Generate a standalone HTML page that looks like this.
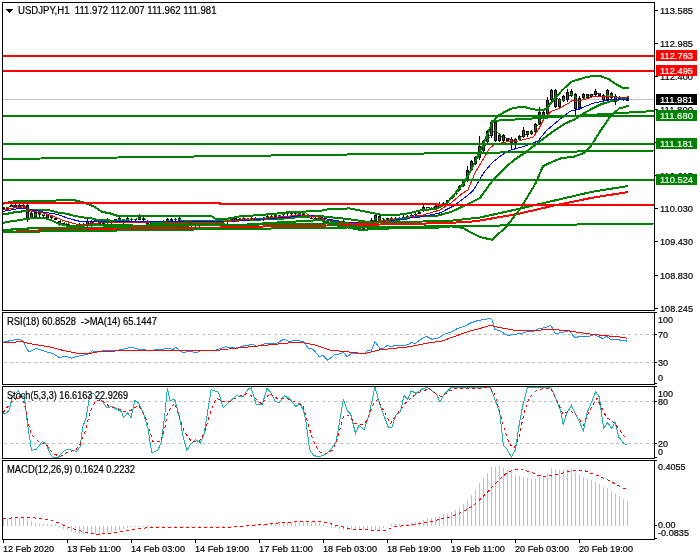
<!DOCTYPE html>
<html><head><meta charset="utf-8"><title>USDJPY,H1</title>
<style>
html,body{margin:0;padding:0;background:#fff;width:700px;height:560px;overflow:hidden}
svg{display:block}
text{font-family:"Liberation Sans",Arial,sans-serif;white-space:pre}
</style></head><body>
<svg width="700" height="560" viewBox="0 0 700 560" shape-rendering="crispEdges">
<rect width="700" height="560" fill="#fff"/>
<line x1="3" y1="99.5" x2="654" y2="99.5" stroke="#c0c0c0" stroke-width="1"/>
<line x1="3.5" y1="207" x2="3.5" y2="209.5" stroke="#000" stroke-width="1"/>
<rect x="2" y="207" width="3" height="2" fill="#000"/>
<line x1="7.5" y1="207" x2="7.5" y2="210" stroke="#000" stroke-width="1"/>
<rect x="6" y="207" width="3" height="2" fill="#000"/>
<line x1="11.5" y1="204" x2="11.5" y2="207" stroke="#000" stroke-width="1"/>
<rect x="10" y="205" width="3" height="2" fill="#000"/>
<line x1="15.5" y1="204" x2="15.5" y2="207" stroke="#000" stroke-width="1"/>
<rect x="14" y="205" width="3" height="2" fill="#000"/>
<line x1="19.5" y1="204" x2="19.5" y2="207" stroke="#000" stroke-width="1"/>
<rect x="18" y="205" width="3" height="2" fill="#000"/>
<line x1="23.5" y1="204" x2="23.5" y2="208" stroke="#000" stroke-width="1"/>
<rect x="22" y="205" width="3" height="2" fill="#000"/>
<line x1="27.5" y1="204" x2="27.5" y2="222" stroke="#000" stroke-width="1"/>
<rect x="26" y="205" width="3" height="14" fill="#000"/>
<rect x="27" y="206" width="1" height="12" fill="#ff0000"/>
<line x1="31.5" y1="212" x2="31.5" y2="219" stroke="#000" stroke-width="1"/>
<rect x="30" y="213" width="3" height="5" fill="#000"/>
<rect x="31" y="214" width="1" height="3" fill="#ff0000"/>
<line x1="35.5" y1="212" x2="35.5" y2="218" stroke="#000" stroke-width="1"/>
<rect x="34" y="212" width="3" height="5" fill="#000"/>
<rect x="35" y="213" width="1" height="3" fill="#008000"/>
<line x1="39.5" y1="212" x2="39.5" y2="217" stroke="#000" stroke-width="1"/>
<rect x="38" y="213" width="3" height="2" fill="#000"/>
<line x1="43.5" y1="215" x2="43.5" y2="217" stroke="#000" stroke-width="1"/>
<rect x="42" y="215" width="3" height="1" fill="#000"/>
<line x1="47.5" y1="214" x2="47.5" y2="218" stroke="#000" stroke-width="1"/>
<rect x="46" y="215" width="3" height="3" fill="#000"/>
<rect x="47" y="216" width="1" height="1" fill="#008000"/>
<line x1="51.5" y1="216" x2="51.5" y2="219" stroke="#000" stroke-width="1"/>
<rect x="50" y="216" width="3" height="2" fill="#000"/>
<line x1="55.5" y1="218" x2="55.5" y2="220" stroke="#000" stroke-width="1"/>
<rect x="54" y="218" width="3" height="2" fill="#000"/>
<line x1="59.5" y1="221" x2="59.5" y2="226" stroke="#000" stroke-width="1"/>
<rect x="58" y="221" width="3" height="3" fill="#000"/>
<rect x="59" y="222" width="1" height="1" fill="#008000"/>
<line x1="63.5" y1="223" x2="63.5" y2="225" stroke="#000" stroke-width="1"/>
<rect x="62" y="223" width="3" height="1" fill="#000"/>
<line x1="67.5" y1="224" x2="67.5" y2="226" stroke="#000" stroke-width="1"/>
<rect x="66" y="224" width="3" height="1" fill="#000"/>
<line x1="71.5" y1="226" x2="71.5" y2="228" stroke="#000" stroke-width="1"/>
<rect x="70" y="226" width="3" height="1" fill="#000"/>
<line x1="75.5" y1="225" x2="75.5" y2="228" stroke="#000" stroke-width="1"/>
<rect x="74" y="225" width="3" height="3" fill="#000"/>
<rect x="75" y="226" width="1" height="1" fill="#ff0000"/>
<line x1="79.5" y1="223" x2="79.5" y2="228" stroke="#000" stroke-width="1"/>
<rect x="78" y="225" width="3" height="2" fill="#000"/>
<line x1="83.5" y1="223" x2="83.5" y2="227" stroke="#000" stroke-width="1"/>
<rect x="82" y="224" width="3" height="2" fill="#000"/>
<line x1="87.5" y1="219" x2="87.5" y2="227" stroke="#000" stroke-width="1"/>
<rect x="86" y="221" width="3" height="4" fill="#000"/>
<rect x="87" y="222" width="1" height="2" fill="#ff0000"/>
<line x1="91.5" y1="220" x2="91.5" y2="229" stroke="#000" stroke-width="1"/>
<rect x="90" y="222" width="3" height="4" fill="#000"/>
<rect x="91" y="223" width="1" height="2" fill="#008000"/>
<line x1="95.5" y1="219" x2="95.5" y2="221" stroke="#000" stroke-width="1"/>
<rect x="94" y="220" width="3" height="1" fill="#000"/>
<line x1="99.5" y1="220" x2="99.5" y2="226" stroke="#000" stroke-width="1"/>
<rect x="98" y="222" width="3" height="3" fill="#000"/>
<rect x="99" y="223" width="1" height="1" fill="#ff0000"/>
<line x1="103.5" y1="223" x2="103.5" y2="225" stroke="#000" stroke-width="1"/>
<rect x="102" y="223" width="3" height="2" fill="#000"/>
<line x1="107.5" y1="218" x2="107.5" y2="224" stroke="#000" stroke-width="1"/>
<rect x="106" y="219" width="3" height="4" fill="#000"/>
<rect x="107" y="220" width="1" height="2" fill="#ff0000"/>
<line x1="111.5" y1="221" x2="111.5" y2="224" stroke="#000" stroke-width="1"/>
<rect x="110" y="222" width="3" height="1" fill="#000"/>
<line x1="115.5" y1="219" x2="115.5" y2="221" stroke="#000" stroke-width="1"/>
<rect x="114" y="219" width="3" height="2" fill="#000"/>
<line x1="119.5" y1="217" x2="119.5" y2="222" stroke="#000" stroke-width="1"/>
<rect x="118" y="218" width="3" height="3" fill="#000"/>
<rect x="119" y="219" width="1" height="1" fill="#ff0000"/>
<line x1="123.5" y1="219" x2="123.5" y2="227" stroke="#000" stroke-width="1"/>
<rect x="122" y="219" width="3" height="3" fill="#000"/>
<rect x="123" y="220" width="1" height="1" fill="#008000"/>
<line x1="127.5" y1="216" x2="127.5" y2="223" stroke="#000" stroke-width="1"/>
<rect x="126" y="218" width="3" height="3" fill="#000"/>
<rect x="127" y="219" width="1" height="1" fill="#008000"/>
<line x1="131.5" y1="218" x2="131.5" y2="222" stroke="#000" stroke-width="1"/>
<rect x="130" y="219" width="3" height="1" fill="#000"/>
<line x1="135.5" y1="219" x2="135.5" y2="221" stroke="#000" stroke-width="1"/>
<rect x="134" y="219" width="3" height="1" fill="#000"/>
<line x1="139.5" y1="214" x2="139.5" y2="220" stroke="#000" stroke-width="1"/>
<rect x="138" y="217" width="3" height="3" fill="#000"/>
<rect x="139" y="218" width="1" height="1" fill="#008000"/>
<line x1="143.5" y1="217" x2="143.5" y2="222" stroke="#000" stroke-width="1"/>
<rect x="142" y="218" width="3" height="2" fill="#000"/>
<line x1="147.5" y1="222" x2="147.5" y2="226" stroke="#000" stroke-width="1"/>
<rect x="146" y="222" width="3" height="2" fill="#000"/>
<line x1="151.5" y1="222" x2="151.5" y2="227" stroke="#000" stroke-width="1"/>
<rect x="150" y="222" width="3" height="3" fill="#000"/>
<rect x="151" y="223" width="1" height="1" fill="#008000"/>
<line x1="155.5" y1="221" x2="155.5" y2="225" stroke="#000" stroke-width="1"/>
<rect x="154" y="222" width="3" height="2" fill="#000"/>
<line x1="159.5" y1="222" x2="159.5" y2="225" stroke="#000" stroke-width="1"/>
<rect x="158" y="222" width="3" height="2" fill="#000"/>
<line x1="163.5" y1="220" x2="163.5" y2="225" stroke="#000" stroke-width="1"/>
<rect x="162" y="221" width="3" height="3" fill="#000"/>
<rect x="163" y="222" width="1" height="1" fill="#ff0000"/>
<line x1="167.5" y1="218" x2="167.5" y2="224" stroke="#000" stroke-width="1"/>
<rect x="166" y="219" width="3" height="3" fill="#000"/>
<rect x="167" y="220" width="1" height="1" fill="#ff0000"/>
<line x1="171.5" y1="218" x2="171.5" y2="222" stroke="#000" stroke-width="1"/>
<rect x="170" y="219" width="3" height="2" fill="#000"/>
<line x1="175.5" y1="218" x2="175.5" y2="221" stroke="#000" stroke-width="1"/>
<rect x="174" y="219" width="3" height="1" fill="#000"/>
<line x1="179.5" y1="217" x2="179.5" y2="222" stroke="#000" stroke-width="1"/>
<rect x="178" y="218" width="3" height="3" fill="#000"/>
<rect x="179" y="219" width="1" height="1" fill="#008000"/>
<line x1="183.5" y1="220" x2="183.5" y2="224" stroke="#000" stroke-width="1"/>
<rect x="182" y="222" width="3" height="1" fill="#000"/>
<line x1="187.5" y1="221" x2="187.5" y2="224" stroke="#000" stroke-width="1"/>
<rect x="186" y="222" width="3" height="2" fill="#000"/>
<line x1="191.5" y1="220" x2="191.5" y2="227" stroke="#000" stroke-width="1"/>
<rect x="190" y="222" width="3" height="3" fill="#000"/>
<rect x="191" y="223" width="1" height="1" fill="#008000"/>
<line x1="195.5" y1="222" x2="195.5" y2="227" stroke="#000" stroke-width="1"/>
<rect x="194" y="224" width="3" height="1" fill="#000"/>
<line x1="199.5" y1="223" x2="199.5" y2="227" stroke="#000" stroke-width="1"/>
<rect x="198" y="224" width="3" height="1" fill="#000"/>
<line x1="203.5" y1="223" x2="203.5" y2="225" stroke="#000" stroke-width="1"/>
<rect x="202" y="223" width="3" height="2" fill="#000"/>
<line x1="207.5" y1="224" x2="207.5" y2="226" stroke="#000" stroke-width="1"/>
<rect x="206" y="224" width="3" height="1" fill="#000"/>
<line x1="211.5" y1="221" x2="211.5" y2="225" stroke="#000" stroke-width="1"/>
<rect x="210" y="222" width="3" height="1" fill="#000"/>
<line x1="215.5" y1="219" x2="215.5" y2="223" stroke="#000" stroke-width="1"/>
<rect x="214" y="220" width="3" height="2" fill="#000"/>
<line x1="219.5" y1="218" x2="219.5" y2="223" stroke="#000" stroke-width="1"/>
<rect x="218" y="220" width="3" height="1" fill="#000"/>
<line x1="223.5" y1="220" x2="223.5" y2="223" stroke="#000" stroke-width="1"/>
<rect x="222" y="220" width="3" height="2" fill="#000"/>
<line x1="227.5" y1="219" x2="227.5" y2="224" stroke="#000" stroke-width="1"/>
<rect x="226" y="220" width="3" height="2" fill="#000"/>
<line x1="231.5" y1="219" x2="231.5" y2="221" stroke="#000" stroke-width="1"/>
<rect x="230" y="219" width="3" height="1" fill="#000"/>
<line x1="235.5" y1="217" x2="235.5" y2="222" stroke="#000" stroke-width="1"/>
<rect x="234" y="218" width="3" height="3" fill="#000"/>
<rect x="235" y="219" width="1" height="1" fill="#ff0000"/>
<line x1="239.5" y1="218" x2="239.5" y2="220" stroke="#000" stroke-width="1"/>
<rect x="238" y="219" width="3" height="1" fill="#000"/>
<line x1="243.5" y1="217" x2="243.5" y2="221" stroke="#000" stroke-width="1"/>
<rect x="242" y="218" width="3" height="2" fill="#000"/>
<line x1="247.5" y1="218" x2="247.5" y2="221" stroke="#000" stroke-width="1"/>
<rect x="246" y="219" width="3" height="1" fill="#000"/>
<line x1="251.5" y1="217" x2="251.5" y2="221" stroke="#000" stroke-width="1"/>
<rect x="250" y="218" width="3" height="1" fill="#000"/>
<line x1="255.5" y1="217" x2="255.5" y2="221" stroke="#000" stroke-width="1"/>
<rect x="254" y="218" width="3" height="1" fill="#000"/>
<line x1="259.5" y1="218" x2="259.5" y2="220" stroke="#000" stroke-width="1"/>
<rect x="258" y="218" width="3" height="1" fill="#000"/>
<line x1="263.5" y1="217" x2="263.5" y2="221" stroke="#000" stroke-width="1"/>
<rect x="262" y="218" width="3" height="1" fill="#000"/>
<line x1="267.5" y1="215" x2="267.5" y2="218" stroke="#000" stroke-width="1"/>
<rect x="266" y="216" width="3" height="2" fill="#000"/>
<line x1="271.5" y1="214" x2="271.5" y2="218" stroke="#000" stroke-width="1"/>
<rect x="270" y="216" width="3" height="1" fill="#000"/>
<line x1="275.5" y1="215" x2="275.5" y2="219" stroke="#000" stroke-width="1"/>
<rect x="274" y="215" width="3" height="2" fill="#000"/>
<line x1="279.5" y1="215" x2="279.5" y2="217" stroke="#000" stroke-width="1"/>
<rect x="278" y="215" width="3" height="2" fill="#000"/>
<line x1="283.5" y1="212" x2="283.5" y2="216" stroke="#000" stroke-width="1"/>
<rect x="282" y="214" width="3" height="1" fill="#000"/>
<line x1="287.5" y1="212" x2="287.5" y2="216" stroke="#000" stroke-width="1"/>
<rect x="286" y="212" width="3" height="2" fill="#000"/>
<line x1="291.5" y1="212" x2="291.5" y2="215" stroke="#000" stroke-width="1"/>
<rect x="290" y="213" width="3" height="1" fill="#000"/>
<line x1="295.5" y1="212" x2="295.5" y2="216" stroke="#000" stroke-width="1"/>
<rect x="294" y="213" width="3" height="1" fill="#000"/>
<line x1="299.5" y1="211" x2="299.5" y2="215" stroke="#000" stroke-width="1"/>
<rect x="298" y="213" width="3" height="1" fill="#000"/>
<line x1="303.5" y1="211" x2="303.5" y2="215" stroke="#000" stroke-width="1"/>
<rect x="302" y="212" width="3" height="3" fill="#000"/>
<rect x="303" y="213" width="1" height="1" fill="#008000"/>
<line x1="307.5" y1="214" x2="307.5" y2="218" stroke="#000" stroke-width="1"/>
<rect x="306" y="215" width="3" height="1" fill="#000"/>
<line x1="311.5" y1="217" x2="311.5" y2="219" stroke="#000" stroke-width="1"/>
<rect x="310" y="218" width="3" height="1" fill="#000"/>
<line x1="315.5" y1="217" x2="315.5" y2="221" stroke="#000" stroke-width="1"/>
<rect x="314" y="218" width="3" height="2" fill="#000"/>
<line x1="319.5" y1="217" x2="319.5" y2="220" stroke="#000" stroke-width="1"/>
<rect x="318" y="218" width="3" height="2" fill="#000"/>
<line x1="323.5" y1="218" x2="323.5" y2="224" stroke="#000" stroke-width="1"/>
<rect x="322" y="220" width="3" height="2" fill="#000"/>
<line x1="327.5" y1="219" x2="327.5" y2="224" stroke="#000" stroke-width="1"/>
<rect x="326" y="220" width="3" height="3" fill="#000"/>
<rect x="327" y="221" width="1" height="1" fill="#ff0000"/>
<line x1="331.5" y1="219" x2="331.5" y2="223" stroke="#000" stroke-width="1"/>
<rect x="330" y="221" width="3" height="1" fill="#000"/>
<line x1="335.5" y1="220" x2="335.5" y2="223" stroke="#000" stroke-width="1"/>
<rect x="334" y="221" width="3" height="1" fill="#000"/>
<line x1="339.5" y1="222" x2="339.5" y2="224" stroke="#000" stroke-width="1"/>
<rect x="338" y="222" width="3" height="1" fill="#000"/>
<line x1="343.5" y1="219" x2="343.5" y2="224" stroke="#000" stroke-width="1"/>
<rect x="342" y="221" width="3" height="3" fill="#000"/>
<rect x="343" y="222" width="1" height="1" fill="#ff0000"/>
<line x1="347.5" y1="223" x2="347.5" y2="226" stroke="#000" stroke-width="1"/>
<rect x="346" y="224" width="3" height="1" fill="#000"/>
<line x1="351.5" y1="224" x2="351.5" y2="227" stroke="#000" stroke-width="1"/>
<rect x="350" y="226" width="3" height="1" fill="#000"/>
<line x1="355.5" y1="224" x2="355.5" y2="228" stroke="#000" stroke-width="1"/>
<rect x="354" y="226" width="3" height="1" fill="#000"/>
<line x1="359.5" y1="225" x2="359.5" y2="230" stroke="#000" stroke-width="1"/>
<rect x="358" y="226" width="3" height="3" fill="#000"/>
<rect x="359" y="227" width="1" height="1" fill="#008000"/>
<line x1="363.5" y1="224" x2="363.5" y2="230" stroke="#000" stroke-width="1"/>
<rect x="362" y="226" width="3" height="3" fill="#000"/>
<rect x="363" y="227" width="1" height="1" fill="#ff0000"/>
<line x1="367.5" y1="225" x2="367.5" y2="230" stroke="#000" stroke-width="1"/>
<rect x="366" y="226" width="3" height="2" fill="#000"/>
<line x1="371.5" y1="218" x2="371.5" y2="223" stroke="#000" stroke-width="1"/>
<rect x="370" y="220" width="3" height="1" fill="#000"/>
<line x1="375.5" y1="214" x2="375.5" y2="221.5" stroke="#000" stroke-width="1"/>
<rect x="374" y="215" width="3" height="6" fill="#000"/>
<rect x="375" y="216" width="1" height="4" fill="#008000"/>
<line x1="379.5" y1="215" x2="379.5" y2="221.5" stroke="#000" stroke-width="1"/>
<rect x="378" y="216" width="3" height="5" fill="#000"/>
<rect x="379" y="217" width="1" height="3" fill="#ff0000"/>
<line x1="383.5" y1="218" x2="383.5" y2="221" stroke="#000" stroke-width="1"/>
<rect x="382" y="220" width="3" height="1" fill="#000"/>
<line x1="387.5" y1="218" x2="387.5" y2="221" stroke="#000" stroke-width="1"/>
<rect x="386" y="218" width="3" height="2" fill="#000"/>
<line x1="391.5" y1="217" x2="391.5" y2="221" stroke="#000" stroke-width="1"/>
<rect x="390" y="218" width="3" height="2" fill="#000"/>
<line x1="395.5" y1="217" x2="395.5" y2="220" stroke="#000" stroke-width="1"/>
<rect x="394" y="218" width="3" height="2" fill="#000"/>
<line x1="399.5" y1="217" x2="399.5" y2="221" stroke="#000" stroke-width="1"/>
<rect x="398" y="218" width="3" height="2" fill="#000"/>
<line x1="403.5" y1="215" x2="403.5" y2="220" stroke="#000" stroke-width="1"/>
<rect x="402" y="217" width="3" height="2" fill="#000"/>
<line x1="407.5" y1="215" x2="407.5" y2="218" stroke="#000" stroke-width="1"/>
<rect x="406" y="216" width="3" height="2" fill="#000"/>
<line x1="411.5" y1="214" x2="411.5" y2="218" stroke="#000" stroke-width="1"/>
<rect x="410" y="215" width="3" height="1" fill="#000"/>
<line x1="415.5" y1="212" x2="415.5" y2="216" stroke="#000" stroke-width="1"/>
<rect x="414" y="214" width="3" height="1" fill="#000"/>
<line x1="419.5" y1="212" x2="419.5" y2="214" stroke="#000" stroke-width="1"/>
<rect x="418" y="212" width="3" height="2" fill="#000"/>
<line x1="423.5" y1="205" x2="423.5" y2="212" stroke="#000" stroke-width="1"/>
<rect x="422" y="207" width="3" height="4" fill="#000"/>
<rect x="423" y="208" width="1" height="2" fill="#008000"/>
<line x1="427.5" y1="207" x2="427.5" y2="208" stroke="#000" stroke-width="1"/>
<rect x="426" y="207" width="3" height="1" fill="#000"/>
<line x1="431.5" y1="207" x2="431.5" y2="210" stroke="#000" stroke-width="1"/>
<rect x="430" y="208" width="3" height="1" fill="#000"/>
<line x1="435.5" y1="205" x2="435.5" y2="210" stroke="#000" stroke-width="1"/>
<rect x="434" y="206" width="3" height="2" fill="#000"/>
<line x1="439.5" y1="202" x2="439.5" y2="208" stroke="#000" stroke-width="1"/>
<rect x="438" y="204" width="3" height="3" fill="#000"/>
<rect x="439" y="205" width="1" height="1" fill="#008000"/>
<line x1="443.5" y1="202" x2="443.5" y2="206" stroke="#000" stroke-width="1"/>
<rect x="442" y="203" width="3" height="1" fill="#000"/>
<line x1="447.5" y1="200" x2="447.5" y2="202" stroke="#000" stroke-width="1"/>
<rect x="446" y="200" width="3" height="2" fill="#000"/>
<line x1="451.5" y1="197" x2="451.5" y2="199" stroke="#000" stroke-width="1"/>
<rect x="450" y="198" width="3" height="1" fill="#000"/>
<line x1="455.5" y1="191" x2="455.5" y2="194" stroke="#000" stroke-width="1"/>
<rect x="454" y="193" width="3" height="1" fill="#000"/>
<line x1="459.5" y1="185" x2="459.5" y2="191" stroke="#000" stroke-width="1"/>
<rect x="458" y="186" width="3" height="4" fill="#000"/>
<rect x="459" y="187" width="1" height="2" fill="#008000"/>
<line x1="463.5" y1="180" x2="463.5" y2="187" stroke="#000" stroke-width="1"/>
<rect x="462" y="181" width="3" height="5" fill="#000"/>
<rect x="463" y="182" width="1" height="3" fill="#008000"/>
<line x1="467.5" y1="165.7" x2="467.5" y2="182.4" stroke="#000" stroke-width="1"/>
<rect x="466" y="170" width="3" height="11" fill="#000"/>
<rect x="467" y="171" width="1" height="9" fill="#008000"/>
<line x1="471.5" y1="160" x2="471.5" y2="171" stroke="#000" stroke-width="1"/>
<rect x="470" y="161" width="3" height="9" fill="#000"/>
<rect x="471" y="162" width="1" height="7" fill="#008000"/>
<line x1="475.5" y1="155.7" x2="475.5" y2="165.3" stroke="#000" stroke-width="1"/>
<rect x="474" y="157" width="3" height="7" fill="#000"/>
<rect x="475" y="158" width="1" height="5" fill="#008000"/>
<line x1="479.5" y1="136.4" x2="479.5" y2="159.6" stroke="#000" stroke-width="1"/>
<rect x="478" y="146" width="3" height="12" fill="#000"/>
<rect x="479" y="147" width="1" height="10" fill="#008000"/>
<line x1="483.5" y1="140" x2="483.5" y2="152.4" stroke="#000" stroke-width="1"/>
<rect x="482" y="141" width="3" height="10" fill="#000"/>
<rect x="483" y="142" width="1" height="8" fill="#008000"/>
<line x1="487.5" y1="130" x2="487.5" y2="143.9" stroke="#000" stroke-width="1"/>
<rect x="486" y="131" width="3" height="11" fill="#000"/>
<rect x="487" y="132" width="1" height="9" fill="#008000"/>
<line x1="491.5" y1="121.4" x2="491.5" y2="138" stroke="#000" stroke-width="1"/>
<rect x="490" y="122" width="3" height="14" fill="#000"/>
<rect x="491" y="123" width="1" height="12" fill="#008000"/>
<line x1="495.5" y1="121.4" x2="495.5" y2="142.4" stroke="#000" stroke-width="1"/>
<rect x="494" y="122" width="3" height="19" fill="#000"/>
<rect x="495" y="123" width="1" height="17" fill="#ff0000"/>
<line x1="499.5" y1="134" x2="499.5" y2="142.4" stroke="#000" stroke-width="1"/>
<rect x="498" y="135" width="3" height="6" fill="#000"/>
<rect x="499" y="136" width="1" height="4" fill="#ff0000"/>
<line x1="503.5" y1="134" x2="503.5" y2="142.4" stroke="#000" stroke-width="1"/>
<rect x="502" y="135" width="3" height="6" fill="#000"/>
<rect x="503" y="136" width="1" height="4" fill="#ff0000"/>
<line x1="507.5" y1="137.9" x2="507.5" y2="142.4" stroke="#000" stroke-width="1"/>
<rect x="506" y="138" width="3" height="3" fill="#000"/>
<rect x="507" y="139" width="1" height="1" fill="#ff0000"/>
<line x1="511.5" y1="137" x2="511.5" y2="149" stroke="#000" stroke-width="1"/>
<rect x="510" y="139" width="3" height="4" fill="#000"/>
<rect x="511" y="140" width="1" height="2" fill="#ff0000"/>
<line x1="515.5" y1="137.9" x2="515.5" y2="148" stroke="#000" stroke-width="1"/>
<rect x="514" y="139" width="3" height="4" fill="#000"/>
<rect x="515" y="140" width="1" height="2" fill="#008000"/>
<line x1="519.5" y1="135" x2="519.5" y2="141" stroke="#000" stroke-width="1"/>
<rect x="518" y="136" width="3" height="4" fill="#000"/>
<rect x="519" y="137" width="1" height="2" fill="#008000"/>
<line x1="523.5" y1="127" x2="523.5" y2="138" stroke="#000" stroke-width="1"/>
<rect x="522" y="130" width="3" height="7" fill="#000"/>
<rect x="523" y="131" width="1" height="5" fill="#008000"/>
<line x1="527.5" y1="130.7" x2="527.5" y2="136.7" stroke="#000" stroke-width="1"/>
<rect x="526" y="131" width="3" height="4" fill="#000"/>
<rect x="527" y="132" width="1" height="2" fill="#008000"/>
<line x1="531.5" y1="130" x2="531.5" y2="135" stroke="#000" stroke-width="1"/>
<rect x="530" y="131" width="3" height="3" fill="#000"/>
<rect x="531" y="132" width="1" height="1" fill="#008000"/>
<line x1="535.5" y1="122.9" x2="535.5" y2="133.9" stroke="#000" stroke-width="1"/>
<rect x="534" y="124" width="3" height="8" fill="#000"/>
<rect x="535" y="125" width="1" height="6" fill="#008000"/>
<line x1="539.5" y1="107" x2="539.5" y2="125.3" stroke="#000" stroke-width="1"/>
<rect x="538" y="112" width="3" height="12" fill="#000"/>
<rect x="539" y="113" width="1" height="10" fill="#008000"/>
<line x1="543.5" y1="111.4" x2="543.5" y2="118" stroke="#000" stroke-width="1"/>
<rect x="542" y="112" width="3" height="5" fill="#000"/>
<rect x="543" y="113" width="1" height="3" fill="#ff0000"/>
<line x1="547.5" y1="97" x2="547.5" y2="115" stroke="#000" stroke-width="1"/>
<rect x="546" y="100" width="3" height="14" fill="#000"/>
<rect x="547" y="101" width="1" height="12" fill="#008000"/>
<line x1="551.5" y1="88.6" x2="551.5" y2="101" stroke="#000" stroke-width="1"/>
<rect x="550" y="90" width="3" height="10" fill="#000"/>
<rect x="551" y="91" width="1" height="8" fill="#008000"/>
<line x1="555.5" y1="89.3" x2="555.5" y2="108" stroke="#000" stroke-width="1"/>
<rect x="554" y="90" width="3" height="17" fill="#000"/>
<rect x="555" y="91" width="1" height="15" fill="#ff0000"/>
<line x1="559.5" y1="97.9" x2="559.5" y2="108" stroke="#000" stroke-width="1"/>
<rect x="558" y="99" width="3" height="8" fill="#000"/>
<rect x="559" y="100" width="1" height="6" fill="#008000"/>
<line x1="563.5" y1="95" x2="563.5" y2="102.4" stroke="#000" stroke-width="1"/>
<rect x="562" y="96" width="3" height="5" fill="#000"/>
<rect x="563" y="97" width="1" height="3" fill="#008000"/>
<line x1="567.5" y1="88.6" x2="567.5" y2="101.7" stroke="#000" stroke-width="1"/>
<rect x="566" y="92" width="3" height="8" fill="#000"/>
<rect x="567" y="93" width="1" height="6" fill="#008000"/>
<line x1="571.5" y1="88.6" x2="571.5" y2="96.7" stroke="#000" stroke-width="1"/>
<rect x="570" y="91" width="3" height="5" fill="#000"/>
<rect x="571" y="92" width="1" height="3" fill="#ff0000"/>
<line x1="575.5" y1="92.9" x2="575.5" y2="115.3" stroke="#000" stroke-width="1"/>
<rect x="574" y="94" width="3" height="15" fill="#000"/>
<rect x="575" y="95" width="1" height="13" fill="#ff0000"/>
<line x1="579.5" y1="96.4" x2="579.5" y2="109.6" stroke="#000" stroke-width="1"/>
<rect x="578" y="98" width="3" height="10" fill="#000"/>
<rect x="579" y="99" width="1" height="8" fill="#008000"/>
<line x1="583.5" y1="92.9" x2="583.5" y2="99.6" stroke="#000" stroke-width="1"/>
<rect x="582" y="94" width="3" height="4" fill="#000"/>
<rect x="583" y="95" width="1" height="2" fill="#008000"/>
<line x1="587.5" y1="93.6" x2="587.5" y2="98.9" stroke="#000" stroke-width="1"/>
<rect x="586" y="94" width="3" height="4" fill="#000"/>
<rect x="587" y="95" width="1" height="2" fill="#ff0000"/>
<line x1="591.5" y1="93.6" x2="591.5" y2="97.4" stroke="#000" stroke-width="1"/>
<rect x="590" y="94" width="3" height="3" fill="#000"/>
<rect x="591" y="95" width="1" height="1" fill="#008000"/>
<line x1="595.5" y1="88.6" x2="595.5" y2="96" stroke="#000" stroke-width="1"/>
<rect x="594" y="91" width="3" height="4" fill="#000"/>
<rect x="595" y="92" width="1" height="2" fill="#ff0000"/>
<line x1="599.5" y1="92.9" x2="599.5" y2="96.7" stroke="#000" stroke-width="1"/>
<rect x="598" y="93" width="3" height="3" fill="#000"/>
<rect x="599" y="94" width="1" height="1" fill="#ff0000"/>
<line x1="603.5" y1="94.3" x2="603.5" y2="101.7" stroke="#000" stroke-width="1"/>
<rect x="602" y="95" width="3" height="5" fill="#000"/>
<rect x="603" y="96" width="1" height="3" fill="#008000"/>
<line x1="607.5" y1="88.6" x2="607.5" y2="101" stroke="#000" stroke-width="1"/>
<rect x="606" y="90" width="3" height="10" fill="#000"/>
<rect x="607" y="91" width="1" height="8" fill="#ff0000"/>
<line x1="611.5" y1="92.1" x2="611.5" y2="99.6" stroke="#000" stroke-width="1"/>
<rect x="610" y="93" width="3" height="5" fill="#000"/>
<rect x="611" y="94" width="1" height="3" fill="#ff0000"/>
<line x1="615.5" y1="94.3" x2="615.5" y2="104.6" stroke="#000" stroke-width="1"/>
<rect x="614" y="96" width="3" height="6" fill="#000"/>
<rect x="615" y="97" width="1" height="4" fill="#ff0000"/>
<line x1="619.5" y1="96.4" x2="619.5" y2="100.3" stroke="#000" stroke-width="1"/>
<rect x="618" y="97" width="3" height="3" fill="#000"/>
<rect x="619" y="98" width="1" height="1" fill="#008000"/>
<line x1="623.5" y1="97" x2="623.5" y2="101" stroke="#000" stroke-width="1"/>
<rect x="622" y="97" width="3" height="3" fill="#000"/>
<rect x="623" y="98" width="1" height="1" fill="#ff0000"/>
<line x1="627.5" y1="97.9" x2="627.5" y2="101" stroke="#000" stroke-width="1"/>
<rect x="626" y="98" width="3" height="3" fill="#000"/>
<rect x="627" y="99" width="1" height="1" fill="#ff0000"/>
<polyline points="3.0,230.0 12.0,230.0 12.0,229.0 28.0,229.0 28.0,228.0 84.0,228.0 160.0,226.0 220.0,225.0 300.0,224.0 380.0,222.5 423.0,221.5 451.0,220.7 470.0,218.6 480.0,217.5 518.6,208.9 555.0,200.4 591.0,192.0 628.0,186.0" fill="none" stroke="#008000" stroke-width="2"/>
<polyline points="16.0,231.0 60.0,230.0 75.0,230.0 100.0,229.0 160.0,228.0 220.0,227.5 228.0,227.0 300.0,226.0 380.0,224.5 423.0,223.6 449.0,222.9 470.0,221.8 480.0,220.5 518.6,213.8 555.0,205.3 591.0,198.0 628.0,192.0" fill="none" stroke="#ff0000" stroke-width="2"/>
<polyline points="3.0,203.6 14.0,201.4 21.0,200.7 36.0,200.7 47.0,201.4 57.0,200.4 63.0,199.6 73.0,200.0 80.0,201.4 89.0,204.3 95.0,207.0 102.0,212.0 109.0,213.0 119.0,216.4 136.0,215.7 152.0,216.4 212.0,216.4 215.0,218.6 228.0,218.6 240.0,216.4 261.0,215.0 276.0,213.6 290.0,212.0 299.0,211.9 321.0,210.7 332.0,208.6 350.0,208.5 360.0,210.5 370.0,212.5 380.0,214.5 390.0,215.5 400.0,214.5 410.0,213.0 420.0,210.5 437.0,208.6 447.0,202.9 458.0,190.0 463.6,183.0 469.0,174.0 476.0,160.0 482.0,147.0 488.0,133.0 492.0,123.0 498.0,115.7 504.3,112.1 510.7,108.9 517.1,107.4 526.1,107.4 531.3,108.9 536.4,109.8 544.1,109.8 548.0,107.0 553.1,100.6 562.1,90.3 571.1,81.9 575.0,80.6 587.0,77.0 594.0,75.7 600.0,76.0 609.0,79.3 616.0,84.3 623.0,87.9 629.0,87.9" fill="none" stroke="#008000" stroke-width="2"/>
<polyline points="3.0,214.0 8.0,214.0 9.0,213.0 13.0,213.0 14.0,212.0 21.0,212.0 22.0,211.0 25.0,211.0 30.0,210.0 48.0,210.0 51.0,210.7 60.0,213.0 67.0,213.7 71.0,215.0 79.0,216.7 84.0,217.5 92.0,218.5 96.0,219.6 110.0,220.5 130.0,221.5 160.0,222.0 200.0,221.0 212.0,221.0 240.0,220.5 261.0,219.5 284.0,218.5 300.0,217.0 320.0,216.0 328.0,217.0 338.0,218.0 347.0,219.0 355.0,220.0 365.0,221.5 372.0,222.0 385.0,221.0 400.0,219.5 410.0,217.5 420.0,216.5 437.0,215.7 451.0,212.0 466.0,205.0 470.0,202.9 480.0,197.9 493.0,180.0 504.0,168.6 514.0,160.0 526.0,152.0 534.0,145.7 540.3,141.0 553.1,131.4 564.7,123.7 575.0,119.2 587.0,111.4 601.0,104.3 613.0,100.7 623.0,98.6 629.0,97.0" fill="none" stroke="#008000" stroke-width="2"/>
<polyline points="3.0,223.1 7.7,221.9 16.0,220.6 24.0,219.3 36.0,217.6 43.0,217.6 51.0,220.0 58.0,223.6 67.0,225.7 80.0,225.7 100.0,225.0 145.0,225.7 152.0,224.3 195.0,223.5 240.0,225.0 285.0,222.0 299.0,221.4 321.0,220.0 328.0,223.6 342.0,226.4 354.0,228.6 361.0,230.0 371.0,229.3 385.0,228.6 410.0,228.0 440.0,227.5 451.0,226.4 463.0,227.9 470.0,232.0 480.0,237.0 491.9,239.8 506.0,227.0 521.0,207.7 535.6,183.4 542.9,166.4 552.6,161.6 562.0,158.0 574.0,156.7 584.0,153.0 591.0,145.8 601.0,130.0 610.0,117.0 619.0,108.6 629.0,105.7" fill="none" stroke="#008000" stroke-width="2"/>
<polyline points="3.0,211.4 11.0,210.0 21.0,208.0 24.0,208.5 43.0,212.0 57.0,214.3 69.0,218.6 80.0,221.4 100.0,221.4 190.0,221.4 219.0,222.0 240.0,220.7 261.0,219.3 290.0,217.0 299.0,215.7 314.0,216.0 328.0,219.3 345.0,222.0 360.0,223.2 370.0,223.5 380.0,221.5 395.0,220.0 405.0,219.5 410.0,218.0 420.0,217.0 440.0,212.9 454.0,205.7 469.0,194.3 473.6,190.0 483.6,172.9 492.0,162.9 500.7,155.7 508.9,150.6 525.9,145.8 538.0,141.0 547.0,130.0 559.0,120.0 570.0,111.4 580.0,108.6 594.0,102.9 609.0,100.0 616.0,99.3 629.0,99.3" fill="none" stroke="#0000ff" stroke-width="1"/>
<polyline points="3.0,209.5 8.0,209.5 9.0,208.5 13.0,208.5 14.0,207.5 21.0,207.5 22.0,206.5 24.0,206.5 29.0,210.7 43.0,213.0 50.0,215.0 56.0,217.5 62.0,219.9 66.0,221.2 70.0,222.5 74.0,223.5 78.0,224.5 89.0,224.5 91.0,223.2 100.0,223.0 190.0,222.0 219.0,222.5 240.0,220.0 261.0,218.5 290.0,216.0 299.0,214.8 318.0,217.0 328.0,220.7 345.0,222.9 371.0,223.6 385.0,220.5 400.0,218.5 410.0,217.0 423.0,215.0 440.0,210.0 451.0,202.9 463.0,192.9 467.9,190.0 475.0,172.9 483.6,158.6 489.3,148.6 494.0,144.6 506.0,142.0 518.6,141.0 533.0,137.3 539.0,128.6 544.0,118.6 551.0,111.4 559.0,108.6 569.0,102.9 573.0,100.0 580.0,100.7 587.0,98.6 594.0,96.4 601.0,96.0 616.0,97.0 629.0,97.9" fill="none" stroke="#ff0000" stroke-width="1"/>
<polyline points="3.5,207.5 7.5,207.5 11.5,206.5 15.5,205.5 19.5,205.5 23.5,205.5 27.5,208.5 31.5,213.2 35.5,214.8 39.5,214.0 43.5,214.2 47.5,215.5 51.5,216.2 55.5,217.5 59.5,220.2 63.5,222.5 67.5,223.5 71.5,225.0 75.5,226.0 79.5,225.8 83.5,225.0 87.5,223.5 91.5,223.0 95.5,221.8 99.5,221.5 103.5,223.2 107.5,222.0 111.5,221.2 115.5,220.8 119.5,219.2 123.5,219.5 127.5,219.5 131.5,219.0 135.5,219.0 139.5,218.5 143.5,218.2 147.5,220.5 151.5,222.8 155.5,222.8 159.5,222.5 163.5,222.2 167.5,221.0 171.5,219.8 175.5,219.2 179.5,219.0 183.5,220.5 187.5,222.2 191.5,222.8 195.5,223.5 199.5,224.0 203.5,223.8 207.5,223.8 211.5,223.0 215.5,221.2 219.5,220.2 223.5,220.2 227.5,220.5 231.5,219.8 235.5,219.0 239.5,219.0 243.5,218.8 247.5,218.8 251.5,218.5 255.5,218.0 259.5,218.0 263.5,218.0 267.5,217.2 271.5,216.2 275.5,215.8 279.5,215.5 283.5,214.8 287.5,213.2 291.5,212.8 295.5,213.0 299.5,213.0 303.5,213.0 307.5,214.0 311.5,216.5 315.5,218.2 319.5,218.5 323.5,219.5 327.5,220.8 331.5,221.0 335.5,221.0 339.5,221.5 343.5,222.0 347.5,223.0 351.5,225.0 355.5,226.0 359.5,226.5 363.5,227.0 367.5,226.8 371.5,223.2 375.5,218.8 379.5,217.8 383.5,219.0 387.5,219.2 391.5,218.5 395.5,218.5 399.5,218.5 403.5,218.0 407.5,217.0 411.5,215.8 415.5,214.5 419.5,213.2 423.5,210.5 427.5,207.8 431.5,207.5 435.5,207.2 439.5,205.8 443.5,204.0 447.5,201.8 451.5,199.2 455.5,195.5 459.5,190.2 463.5,185.2 467.5,179.0 471.5,170.0 475.5,162.5 479.5,155.8 483.5,148.5 487.5,140.8 491.5,132.2 495.5,129.8 499.5,134.2 503.5,137.5 507.5,138.2 511.5,139.8 515.5,140.5 519.5,139.0 523.5,135.2 527.5,132.8 531.5,132.2 535.5,129.8 539.5,122.5 543.5,115.8 547.5,110.2 551.5,100.5 555.5,96.2 559.5,100.2 563.5,100.2 567.5,96.8 571.5,94.2 575.5,97.0 579.5,101.8 583.5,99.0 587.5,95.5 591.5,95.2 595.5,93.8 599.5,93.2 603.5,95.5 607.5,95.8 611.5,94.8 615.5,96.8 619.5,98.2 623.5,98.0 627.5,98.5" fill="none" stroke="#008000" stroke-width="1" stroke-dasharray="1,1"/>
<line x1="3" y1="56" x2="654" y2="56" stroke="#ff0000" stroke-width="2"/>
<line x1="3" y1="71" x2="654" y2="71" stroke="#ff0000" stroke-width="2"/>
<line x1="3" y1="116" x2="654" y2="116" stroke="#008000" stroke-width="2"/>
<line x1="3" y1="144" x2="654" y2="144" stroke="#008000" stroke-width="2"/>
<line x1="3" y1="180" x2="654" y2="180" stroke="#008000" stroke-width="2"/>
<polyline points="3.0,203.0 220.0,203.0 220.0,204.0 437.0,204.0 437.0,205.0 654.0,205.0" fill="none" stroke="#ff0000" stroke-width="2"/>
<polyline points="3.0,159.0 654.0,150.5" fill="none" stroke="#008000" stroke-width="2"/>
<polyline points="491.0,121.0 654.0,111.0" fill="none" stroke="#008000" stroke-width="2"/>
<polyline points="3.0,232.0 654.0,223.5" fill="none" stroke="#008000" stroke-width="2"/>
<line x1="655" y1="10.5" x2="657.5" y2="10.5" stroke="#000" stroke-width="1"/>
<text x="660" y="13.8" font-size="9.5" fill="#000" stroke="#000" stroke-width="0.2" textLength="33" lengthAdjust="spacingAndGlyphs">113.585</text>
<line x1="655" y1="43.5" x2="657.5" y2="43.5" stroke="#000" stroke-width="1"/>
<text x="660" y="46.8" font-size="9.5" fill="#000" stroke="#000" stroke-width="0.2" textLength="33" lengthAdjust="spacingAndGlyphs">112.985</text>
<line x1="655" y1="76.5" x2="657.5" y2="76.5" stroke="#000" stroke-width="1"/>
<text x="660" y="79.8" font-size="9.5" fill="#000" stroke="#000" stroke-width="0.2" textLength="33" lengthAdjust="spacingAndGlyphs">112.400</text>
<line x1="655" y1="109.5" x2="657.5" y2="109.5" stroke="#000" stroke-width="1"/>
<text x="660" y="112.8" font-size="9.5" fill="#000" stroke="#000" stroke-width="0.2" textLength="33" lengthAdjust="spacingAndGlyphs">111.800</text>
<line x1="655" y1="142.5" x2="657.5" y2="142.5" stroke="#000" stroke-width="1"/>
<text x="660" y="145.8" font-size="9.5" fill="#000" stroke="#000" stroke-width="0.2" textLength="33" lengthAdjust="spacingAndGlyphs">111.215</text>
<line x1="655" y1="175.5" x2="657.5" y2="175.5" stroke="#000" stroke-width="1"/>
<text x="660" y="178.8" font-size="9.5" fill="#000" stroke="#000" stroke-width="0.2" textLength="33" lengthAdjust="spacingAndGlyphs">110.615</text>
<line x1="655" y1="208.5" x2="657.5" y2="208.5" stroke="#000" stroke-width="1"/>
<text x="660" y="211.8" font-size="9.5" fill="#000" stroke="#000" stroke-width="0.2" textLength="33" lengthAdjust="spacingAndGlyphs">110.030</text>
<line x1="655" y1="241.5" x2="657.5" y2="241.5" stroke="#000" stroke-width="1"/>
<text x="660" y="244.8" font-size="9.5" fill="#000" stroke="#000" stroke-width="0.2" textLength="33" lengthAdjust="spacingAndGlyphs">109.430</text>
<line x1="655" y1="275.5" x2="657.5" y2="275.5" stroke="#000" stroke-width="1"/>
<text x="660" y="278.8" font-size="9.5" fill="#000" stroke="#000" stroke-width="0.2" textLength="33" lengthAdjust="spacingAndGlyphs">108.830</text>
<line x1="655" y1="308.5" x2="657.5" y2="308.5" stroke="#000" stroke-width="1"/>
<text x="660" y="311.8" font-size="9.5" fill="#000" stroke="#000" stroke-width="0.2" textLength="33" lengthAdjust="spacingAndGlyphs">108.245</text>
<rect x="656" y="50" width="41" height="11" fill="#ff0000"/>
<text x="660" y="59" font-size="9.5" fill="#fff" stroke="#fff" stroke-width="0.2" textLength="33" lengthAdjust="spacingAndGlyphs">112.763</text>
<rect x="656" y="65" width="41" height="11" fill="#ff0000"/>
<text x="660" y="74" font-size="9.5" fill="#fff" stroke="#fff" stroke-width="0.2" textLength="33" lengthAdjust="spacingAndGlyphs">112.495</text>
<rect x="656" y="94" width="41" height="11" fill="#000"/>
<text x="660" y="103" font-size="9.5" fill="#fff" stroke="#fff" stroke-width="0.2" textLength="33" lengthAdjust="spacingAndGlyphs">111.981</text>
<rect x="656" y="110" width="41" height="11" fill="#008000"/>
<text x="660" y="119" font-size="9.5" fill="#fff" stroke="#fff" stroke-width="0.2" textLength="33" lengthAdjust="spacingAndGlyphs">111.680</text>
<rect x="656" y="138" width="41" height="11" fill="#008000"/>
<text x="660" y="147" font-size="9.5" fill="#fff" stroke="#fff" stroke-width="0.2" textLength="33" lengthAdjust="spacingAndGlyphs">111.181</text>
<rect x="656" y="174" width="41" height="11" fill="#008000"/>
<text x="660" y="183" font-size="9.5" fill="#fff" stroke="#fff" stroke-width="0.2" textLength="33" lengthAdjust="spacingAndGlyphs">110.524</text>
<line x1="4" y1="334.5" x2="654" y2="334.5" stroke="#c0c0c0" stroke-width="1" stroke-dasharray="3,3"/>
<line x1="4" y1="362.5" x2="654" y2="362.5" stroke="#c0c0c0" stroke-width="1" stroke-dasharray="3,3"/>
<polyline points="3.0,342.4 9.7,340.7 19.4,339.2 23.0,340.7 26.7,348.4 29.0,352.0 36.4,348.4 43.7,350.9 53.4,353.8 59.5,357.7 65.6,356.2 71.6,358.1 80.0,355.7 87.4,354.5 92.3,350.9 99.6,352.0 104.4,350.1 114.0,350.9 121.4,349.6 126.3,348.4 131.0,347.2 136.0,348.4 140.8,349.6 150.6,350.4 165.0,348.9 169.9,348.1 172.3,349.8 175.9,347.6 179.6,350.5 183.2,352.9 189.3,351.2 196.6,352.9 201.4,350.5 216.0,350.0 225.7,346.9 235.4,348.1 245.1,345.6 252.4,344.4 257.3,346.4 264.6,343.7 271.8,343.9 276.7,343.2 284.0,339.1 288.8,341.5 296.1,340.3 303.4,341.5 308.3,348.1 313.0,349.3 319.2,356.6 322.8,355.4 327.7,360.2 334.9,354.5 340.9,353.8 343.4,352.1 347.0,356.9 351.9,353.3 359.1,354.0 364.0,353.8 367.6,350.4 371.3,350.4 374.9,341.6 379.8,348.4 383.4,348.4 387.1,345.5 390.7,346.7 395.6,345.5 400.4,346.0 407.7,344.8 411.3,342.4 415.0,343.6 419.9,339.9 425.9,336.3 432.0,339.2 438.0,338.0 445.3,333.9 451.4,331.9 457.5,328.5 463.6,326.6 470.8,322.9 478.1,320.5 485.4,319.3 490.3,318.3 492.4,320.5 494.9,329.5 499.7,330.9 508.2,335.6 514.3,334.3 521.6,333.4 526.4,331.9 533.7,331.4 538.6,328.5 544.6,327.8 550.7,325.4 553.1,329.0 555.6,333.9 562.9,332.2 568.9,330.9 575.0,337.5 581.1,336.3 587.1,336.8 594.4,334.6 602.9,338.7 606.6,336.3 611.4,339.9 618.7,339.9 627.2,341.1" fill="none" stroke="#1e90ff" stroke-width="1"/>
<polyline points="3.0,343.0 21.9,341.6 26.7,343.0 36.4,344.8 48.6,346.7 63.0,350.4 77.7,353.3 87.4,353.8 97.0,352.0 109.0,351.3 126.0,350.4 145.7,350.4 170.0,350.1 189.3,350.5 216.0,350.5 225.7,349.3 245.1,347.3 262.0,345.6 279.0,343.9 291.3,342.7 303.4,342.7 315.6,345.2 330.0,350.1 342.1,351.3 354.3,352.6 364.0,353.8 378.6,350.1 393.1,348.4 410.1,346.7 427.1,343.1 441.7,341.1 456.3,335.8 470.8,330.7 480.6,328.3 490.3,325.4 497.3,327.1 514.3,330.2 524.0,330.9 533.7,330.9 543.4,329.7 553.1,329.7 567.7,330.5 575.0,331.9 592.0,334.3 606.6,335.8 618.7,336.8 627.2,338.2" fill="none" stroke="#ff0000" stroke-width="1"/>
<text x="658" y="323" font-size="9.5" fill="#000" stroke="#000" stroke-width="0.2" textLength="15" lengthAdjust="spacingAndGlyphs">100</text>
<text x="658" y="337.5" font-size="9.5" fill="#000" stroke="#000" stroke-width="0.2" textLength="10" lengthAdjust="spacingAndGlyphs">70</text>
<text x="658" y="365.8" font-size="9.5" fill="#000" stroke="#000" stroke-width="0.2" textLength="10" lengthAdjust="spacingAndGlyphs">30</text>
<text x="658" y="380.8" font-size="9.5" fill="#000" stroke="#000" stroke-width="0.2" textLength="5" lengthAdjust="spacingAndGlyphs">0</text>
<line x1="655" y1="312.5" x2="657" y2="312.5" stroke="#000" stroke-width="1"/>
<line x1="655" y1="334.5" x2="657" y2="334.5" stroke="#000" stroke-width="1"/>
<line x1="655" y1="362.5" x2="657" y2="362.5" stroke="#000" stroke-width="1"/>
<line x1="655" y1="383.5" x2="657" y2="383.5" stroke="#000" stroke-width="1"/>
<line x1="4" y1="401.5" x2="654" y2="401.5" stroke="#c0c0c0" stroke-width="1" stroke-dasharray="3,3"/>
<line x1="4" y1="443.5" x2="654" y2="443.5" stroke="#c0c0c0" stroke-width="1" stroke-dasharray="3,3"/>
<polyline points="3.0,413.9 7.3,412.7 9.7,409.1 12.1,396.9 14.6,394.5 18.2,390.9 21.9,396.9 24.3,395.7 26.7,417.6 29.1,434.6 31.6,450.4 36.4,449.1 42.5,441.4 46.1,444.3 51.0,455.2 53.4,457.2 58.3,457.2 63.1,451.6 68.0,449.1 72.9,450.4 76.5,451.6 80.1,446.7 82.6,427.3 86.2,417.6 89.8,394.5 93.5,393.3 97.1,398.1 102.0,400.6 106.8,407.9 111.7,406.6 116.6,409.1 121.4,411.5 123.8,417.6 127.5,412.7 131.1,417.6 134.8,400.6 138.4,403.0 143.3,412.7 148.1,429.7 151.8,452.8 157.8,450.4 161.5,441.9 165.0,412.7 167.4,388.4 169.9,400.6 174.7,399.4 179.6,417.6 183.2,437.0 186.9,450.4 190.5,444.3 195.4,439.4 200.2,443.1 203.9,434.6 207.5,412.7 211.1,389.6 218.4,392.1 223.3,407.9 229.4,401.8 236.6,395.7 242.7,396.9 248.8,388.4 251.2,387.9 256.1,404.2 262.1,404.9 267.0,388.4 270.6,392.1 275.5,401.8 279.1,402.5 284.0,395.7 288.8,398.1 296.1,406.6 299.8,403.0 303.4,410.3 305.8,420.0 309.5,449.1 313.1,455.2 318.0,456.9 325.3,454.7 330.1,450.4 336.1,441.9 343.4,399.4 347.0,410.3 350.6,413.9 355.5,433.4 359.1,424.9 364.0,429.7 368.9,415.1 374.9,387.2 381.0,407.9 388.3,427.3 391.9,427.3 395.6,415.1 400.4,411.5 404.1,395.7 407.7,399.4 411.3,390.9 416.2,393.3 421.1,389.6 427.1,387.2 432.0,390.9 436.8,394.5 439.8,401.8 444.1,394.5 451.4,387.2 490.3,387.2 493.6,395.7 499.7,412.7 503.4,445.5 507.0,449.1 511.4,456.9 515.5,449.6 519.1,424.9 522.8,405.4 527.6,387.2 550.7,387.2 555.6,398.1 560.4,410.3 563.3,424.9 566.5,413.9 571.4,405.4 576.2,415.1 583.5,430.9 587.1,412.7 595.6,392.1 599.3,396.9 603.6,428.5 607.8,422.4 611.4,428.5 615.1,422.4 618.7,437.0 623.6,443.1 627.2,445.0" fill="none" stroke="#20b2aa" stroke-width="1"/>
<polyline points="3.0,412.7 9.7,404.2 13.4,400.6 19.4,395.7 24.3,403.0 27.9,422.4 31.6,434.6 38.9,441.9 46.1,444.3 53.4,454.0 60.7,456.4 68.0,451.6 75.3,450.4 80.1,444.3 85.0,432.1 89.8,412.7 95.9,400.6 102.0,400.6 109.3,406.6 116.6,407.9 123.8,411.5 131.1,410.3 138.4,405.4 145.7,417.6 153.0,441.9 160.3,441.9 165.0,427.3 167.4,412.7 174.7,403.0 179.6,417.6 184.4,432.1 191.7,441.9 199.0,441.9 205.1,430.9 209.9,413.9 216.0,398.1 223.3,401.8 230.6,401.1 237.9,396.9 247.6,393.3 254.8,398.1 262.1,404.2 269.4,393.3 276.7,398.1 286.4,398.1 296.1,402.5 303.4,406.6 308.3,424.9 313.1,440.6 319.2,451.6 325.3,454.0 332.6,450.4 337.3,439.4 343.4,416.4 349.4,415.1 354.3,423.6 361.6,424.9 366.4,421.2 373.7,403.0 377.4,399.4 383.4,410.3 390.7,423.6 398.0,412.7 405.3,403.0 413.8,395.7 422.3,390.9 429.6,388.9 436.8,394.5 441.7,396.9 449.0,390.9 456.3,388.4 490.3,387.9 494.9,394.5 499.7,412.7 504.6,429.7 509.4,444.3 514.3,447.9 519.1,437.0 524.0,412.7 528.9,398.1 536.1,390.9 543.4,388.4 550.7,388.4 558.0,403.0 562.9,413.9 570.1,410.3 577.4,416.4 583.5,424.9 589.6,410.3 596.8,398.1 601.7,407.9 606.6,417.6 613.8,422.4 621.1,432.1 626.0,438.2" fill="none" stroke="#ff0000" stroke-width="1" stroke-dasharray="3,3"/>
<text x="658" y="396.8" font-size="9.5" fill="#000" stroke="#000" stroke-width="0.2" textLength="15" lengthAdjust="spacingAndGlyphs">100</text>
<text x="658" y="404.8" font-size="9.5" fill="#000" stroke="#000" stroke-width="0.2" textLength="10" lengthAdjust="spacingAndGlyphs">80</text>
<text x="658" y="446.5" font-size="9.5" fill="#000" stroke="#000" stroke-width="0.2" textLength="10" lengthAdjust="spacingAndGlyphs">20</text>
<text x="658" y="454.6" font-size="9.5" fill="#000" stroke="#000" stroke-width="0.2" textLength="5" lengthAdjust="spacingAndGlyphs">0</text>
<line x1="655" y1="386.5" x2="657" y2="386.5" stroke="#000" stroke-width="1"/>
<line x1="655" y1="401.5" x2="657" y2="401.5" stroke="#000" stroke-width="1"/>
<line x1="655" y1="443.5" x2="657" y2="443.5" stroke="#000" stroke-width="1"/>
<line x1="655" y1="457.5" x2="657" y2="457.5" stroke="#000" stroke-width="1"/>
<line x1="3.5" y1="519" x2="3.5" y2="526" stroke="#c0c0c0" stroke-width="1"/>
<line x1="7.5" y1="519" x2="7.5" y2="526" stroke="#c0c0c0" stroke-width="1"/>
<line x1="11.5" y1="519" x2="11.5" y2="526" stroke="#c0c0c0" stroke-width="1"/>
<line x1="15.5" y1="518" x2="15.5" y2="526" stroke="#c0c0c0" stroke-width="1"/>
<line x1="19.5" y1="518" x2="19.5" y2="526" stroke="#c0c0c0" stroke-width="1"/>
<line x1="23.5" y1="518" x2="23.5" y2="526" stroke="#c0c0c0" stroke-width="1"/>
<line x1="27.5" y1="519" x2="27.5" y2="526" stroke="#c0c0c0" stroke-width="1"/>
<line x1="31.5" y1="521" x2="31.5" y2="526" stroke="#c0c0c0" stroke-width="1"/>
<line x1="35.5" y1="523" x2="35.5" y2="526" stroke="#c0c0c0" stroke-width="1"/>
<line x1="39.5" y1="524" x2="39.5" y2="526" stroke="#c0c0c0" stroke-width="1"/>
<line x1="43.5" y1="524" x2="43.5" y2="526" stroke="#c0c0c0" stroke-width="1"/>
<line x1="47.5" y1="524" x2="47.5" y2="526" stroke="#c0c0c0" stroke-width="1"/>
<line x1="51.5" y1="524" x2="51.5" y2="526" stroke="#c0c0c0" stroke-width="1"/>
<line x1="55.5" y1="524" x2="55.5" y2="526" stroke="#c0c0c0" stroke-width="1"/>
<line x1="59.5" y1="526" x2="59.5" y2="527" stroke="#c0c0c0" stroke-width="1"/>
<line x1="63.5" y1="526" x2="63.5" y2="529" stroke="#c0c0c0" stroke-width="1"/>
<line x1="67.5" y1="526" x2="67.5" y2="530" stroke="#c0c0c0" stroke-width="1"/>
<line x1="71.5" y1="526" x2="71.5" y2="532" stroke="#c0c0c0" stroke-width="1"/>
<line x1="75.5" y1="526" x2="75.5" y2="533" stroke="#c0c0c0" stroke-width="1"/>
<line x1="79.5" y1="526" x2="79.5" y2="534" stroke="#c0c0c0" stroke-width="1"/>
<line x1="83.5" y1="526" x2="83.5" y2="534" stroke="#c0c0c0" stroke-width="1"/>
<line x1="87.5" y1="526" x2="87.5" y2="534" stroke="#c0c0c0" stroke-width="1"/>
<line x1="91.5" y1="526" x2="91.5" y2="534" stroke="#c0c0c0" stroke-width="1"/>
<line x1="95.5" y1="526" x2="95.5" y2="534" stroke="#c0c0c0" stroke-width="1"/>
<line x1="99.5" y1="526" x2="99.5" y2="534" stroke="#c0c0c0" stroke-width="1"/>
<line x1="103.5" y1="526" x2="103.5" y2="533" stroke="#c0c0c0" stroke-width="1"/>
<line x1="107.5" y1="526" x2="107.5" y2="533" stroke="#c0c0c0" stroke-width="1"/>
<line x1="111.5" y1="526" x2="111.5" y2="532" stroke="#c0c0c0" stroke-width="1"/>
<line x1="115.5" y1="526" x2="115.5" y2="531" stroke="#c0c0c0" stroke-width="1"/>
<line x1="119.5" y1="526" x2="119.5" y2="530" stroke="#c0c0c0" stroke-width="1"/>
<line x1="123.5" y1="526" x2="123.5" y2="529" stroke="#c0c0c0" stroke-width="1"/>
<line x1="127.5" y1="526" x2="127.5" y2="528" stroke="#c0c0c0" stroke-width="1"/>
<line x1="131.5" y1="526" x2="131.5" y2="527" stroke="#c0c0c0" stroke-width="1"/>
<line x1="135.5" y1="526" x2="135.5" y2="527" stroke="#c0c0c0" stroke-width="1"/>
<line x1="139.5" y1="526" x2="139.5" y2="527" stroke="#c0c0c0" stroke-width="1"/>
<line x1="143.5" y1="526" x2="143.5" y2="527" stroke="#c0c0c0" stroke-width="1"/>
<line x1="147.5" y1="526" x2="147.5" y2="527" stroke="#c0c0c0" stroke-width="1"/>
<line x1="151.5" y1="526" x2="151.5" y2="527" stroke="#c0c0c0" stroke-width="1"/>
<line x1="155.5" y1="526" x2="155.5" y2="527" stroke="#c0c0c0" stroke-width="1"/>
<line x1="159.5" y1="526" x2="159.5" y2="527" stroke="#c0c0c0" stroke-width="1"/>
<line x1="163.5" y1="526" x2="163.5" y2="527" stroke="#c0c0c0" stroke-width="1"/>
<line x1="167.5" y1="526" x2="167.5" y2="527" stroke="#c0c0c0" stroke-width="1"/>
<line x1="171.5" y1="526" x2="171.5" y2="527" stroke="#c0c0c0" stroke-width="1"/>
<line x1="175.5" y1="526" x2="175.5" y2="527" stroke="#c0c0c0" stroke-width="1"/>
<line x1="179.5" y1="526" x2="179.5" y2="527" stroke="#c0c0c0" stroke-width="1"/>
<line x1="183.5" y1="526" x2="183.5" y2="527" stroke="#c0c0c0" stroke-width="1"/>
<line x1="187.5" y1="526" x2="187.5" y2="527" stroke="#c0c0c0" stroke-width="1"/>
<line x1="191.5" y1="526" x2="191.5" y2="527" stroke="#c0c0c0" stroke-width="1"/>
<line x1="195.5" y1="526" x2="195.5" y2="527" stroke="#c0c0c0" stroke-width="1"/>
<line x1="199.5" y1="526" x2="199.5" y2="527" stroke="#c0c0c0" stroke-width="1"/>
<line x1="203.5" y1="526" x2="203.5" y2="527" stroke="#c0c0c0" stroke-width="1"/>
<line x1="207.5" y1="526" x2="207.5" y2="527" stroke="#c0c0c0" stroke-width="1"/>
<line x1="211.5" y1="526" x2="211.5" y2="527" stroke="#c0c0c0" stroke-width="1"/>
<line x1="215.5" y1="526" x2="215.5" y2="527" stroke="#c0c0c0" stroke-width="1"/>
<line x1="219.5" y1="526" x2="219.5" y2="527" stroke="#c0c0c0" stroke-width="1"/>
<line x1="223.5" y1="526" x2="223.5" y2="527" stroke="#c0c0c0" stroke-width="1"/>
<line x1="227.5" y1="526" x2="227.5" y2="527" stroke="#c0c0c0" stroke-width="1"/>
<line x1="231.5" y1="526" x2="231.5" y2="527" stroke="#c0c0c0" stroke-width="1"/>
<line x1="235.5" y1="526" x2="235.5" y2="527" stroke="#c0c0c0" stroke-width="1"/>
<line x1="239.5" y1="526" x2="239.5" y2="527" stroke="#c0c0c0" stroke-width="1"/>
<line x1="243.5" y1="526" x2="243.5" y2="527" stroke="#c0c0c0" stroke-width="1"/>
<line x1="247.5" y1="526" x2="247.5" y2="527" stroke="#c0c0c0" stroke-width="1"/>
<line x1="251.5" y1="526" x2="251.5" y2="526" stroke="#c0c0c0" stroke-width="1"/>
<line x1="255.5" y1="524" x2="255.5" y2="526" stroke="#c0c0c0" stroke-width="1"/>
<line x1="259.5" y1="524" x2="259.5" y2="526" stroke="#c0c0c0" stroke-width="1"/>
<line x1="263.5" y1="524" x2="263.5" y2="526" stroke="#c0c0c0" stroke-width="1"/>
<line x1="267.5" y1="523" x2="267.5" y2="526" stroke="#c0c0c0" stroke-width="1"/>
<line x1="271.5" y1="523" x2="271.5" y2="526" stroke="#c0c0c0" stroke-width="1"/>
<line x1="275.5" y1="523" x2="275.5" y2="526" stroke="#c0c0c0" stroke-width="1"/>
<line x1="279.5" y1="522" x2="279.5" y2="526" stroke="#c0c0c0" stroke-width="1"/>
<line x1="283.5" y1="522" x2="283.5" y2="526" stroke="#c0c0c0" stroke-width="1"/>
<line x1="287.5" y1="522" x2="287.5" y2="526" stroke="#c0c0c0" stroke-width="1"/>
<line x1="291.5" y1="522" x2="291.5" y2="526" stroke="#c0c0c0" stroke-width="1"/>
<line x1="295.5" y1="522" x2="295.5" y2="526" stroke="#c0c0c0" stroke-width="1"/>
<line x1="299.5" y1="522" x2="299.5" y2="526" stroke="#c0c0c0" stroke-width="1"/>
<line x1="303.5" y1="522" x2="303.5" y2="526" stroke="#c0c0c0" stroke-width="1"/>
<line x1="307.5" y1="522" x2="307.5" y2="526" stroke="#c0c0c0" stroke-width="1"/>
<line x1="311.5" y1="522" x2="311.5" y2="526" stroke="#c0c0c0" stroke-width="1"/>
<line x1="315.5" y1="522" x2="315.5" y2="526" stroke="#c0c0c0" stroke-width="1"/>
<line x1="319.5" y1="523" x2="319.5" y2="526" stroke="#c0c0c0" stroke-width="1"/>
<line x1="323.5" y1="524" x2="323.5" y2="526" stroke="#c0c0c0" stroke-width="1"/>
<line x1="327.5" y1="526" x2="327.5" y2="527" stroke="#c0c0c0" stroke-width="1"/>
<line x1="331.5" y1="526" x2="331.5" y2="528" stroke="#c0c0c0" stroke-width="1"/>
<line x1="335.5" y1="526" x2="335.5" y2="528" stroke="#c0c0c0" stroke-width="1"/>
<line x1="339.5" y1="526" x2="339.5" y2="529" stroke="#c0c0c0" stroke-width="1"/>
<line x1="343.5" y1="526" x2="343.5" y2="530" stroke="#c0c0c0" stroke-width="1"/>
<line x1="347.5" y1="526" x2="347.5" y2="530" stroke="#c0c0c0" stroke-width="1"/>
<line x1="351.5" y1="526" x2="351.5" y2="530" stroke="#c0c0c0" stroke-width="1"/>
<line x1="355.5" y1="526" x2="355.5" y2="530" stroke="#c0c0c0" stroke-width="1"/>
<line x1="359.5" y1="526" x2="359.5" y2="530" stroke="#c0c0c0" stroke-width="1"/>
<line x1="363.5" y1="526" x2="363.5" y2="530" stroke="#c0c0c0" stroke-width="1"/>
<line x1="367.5" y1="526" x2="367.5" y2="530" stroke="#c0c0c0" stroke-width="1"/>
<line x1="371.5" y1="526" x2="371.5" y2="530" stroke="#c0c0c0" stroke-width="1"/>
<line x1="375.5" y1="526" x2="375.5" y2="530" stroke="#c0c0c0" stroke-width="1"/>
<line x1="379.5" y1="526" x2="379.5" y2="530" stroke="#c0c0c0" stroke-width="1"/>
<line x1="383.5" y1="526" x2="383.5" y2="528" stroke="#c0c0c0" stroke-width="1"/>
<line x1="387.5" y1="526" x2="387.5" y2="526" stroke="#c0c0c0" stroke-width="1"/>
<line x1="391.5" y1="524" x2="391.5" y2="526" stroke="#c0c0c0" stroke-width="1"/>
<line x1="395.5" y1="524" x2="395.5" y2="526" stroke="#c0c0c0" stroke-width="1"/>
<line x1="399.5" y1="524" x2="399.5" y2="526" stroke="#c0c0c0" stroke-width="1"/>
<line x1="403.5" y1="524" x2="403.5" y2="526" stroke="#c0c0c0" stroke-width="1"/>
<line x1="407.5" y1="524" x2="407.5" y2="526" stroke="#c0c0c0" stroke-width="1"/>
<line x1="411.5" y1="523" x2="411.5" y2="526" stroke="#c0c0c0" stroke-width="1"/>
<line x1="415.5" y1="522" x2="415.5" y2="526" stroke="#c0c0c0" stroke-width="1"/>
<line x1="419.5" y1="521" x2="419.5" y2="526" stroke="#c0c0c0" stroke-width="1"/>
<line x1="423.5" y1="520" x2="423.5" y2="526" stroke="#c0c0c0" stroke-width="1"/>
<line x1="427.5" y1="518" x2="427.5" y2="526" stroke="#c0c0c0" stroke-width="1"/>
<line x1="431.5" y1="518" x2="431.5" y2="526" stroke="#c0c0c0" stroke-width="1"/>
<line x1="435.5" y1="517" x2="435.5" y2="526" stroke="#c0c0c0" stroke-width="1"/>
<line x1="439.5" y1="516" x2="439.5" y2="526" stroke="#c0c0c0" stroke-width="1"/>
<line x1="443.5" y1="514" x2="443.5" y2="526" stroke="#c0c0c0" stroke-width="1"/>
<line x1="447.5" y1="514" x2="447.5" y2="526" stroke="#c0c0c0" stroke-width="1"/>
<line x1="451.5" y1="512" x2="451.5" y2="526" stroke="#c0c0c0" stroke-width="1"/>
<line x1="455.5" y1="510" x2="455.5" y2="526" stroke="#c0c0c0" stroke-width="1"/>
<line x1="459.5" y1="507" x2="459.5" y2="526" stroke="#c0c0c0" stroke-width="1"/>
<line x1="463.5" y1="504" x2="463.5" y2="526" stroke="#c0c0c0" stroke-width="1"/>
<line x1="467.5" y1="500" x2="467.5" y2="526" stroke="#c0c0c0" stroke-width="1"/>
<line x1="471.5" y1="495" x2="471.5" y2="526" stroke="#c0c0c0" stroke-width="1"/>
<line x1="475.5" y1="490" x2="475.5" y2="526" stroke="#c0c0c0" stroke-width="1"/>
<line x1="479.5" y1="483" x2="479.5" y2="526" stroke="#c0c0c0" stroke-width="1"/>
<line x1="483.5" y1="478" x2="483.5" y2="526" stroke="#c0c0c0" stroke-width="1"/>
<line x1="487.5" y1="473" x2="487.5" y2="526" stroke="#c0c0c0" stroke-width="1"/>
<line x1="491.5" y1="467" x2="491.5" y2="526" stroke="#c0c0c0" stroke-width="1"/>
<line x1="495.5" y1="467" x2="495.5" y2="526" stroke="#c0c0c0" stroke-width="1"/>
<line x1="499.5" y1="466" x2="499.5" y2="526" stroke="#c0c0c0" stroke-width="1"/>
<line x1="503.5" y1="468" x2="503.5" y2="526" stroke="#c0c0c0" stroke-width="1"/>
<line x1="507.5" y1="470" x2="507.5" y2="526" stroke="#c0c0c0" stroke-width="1"/>
<line x1="511.5" y1="472" x2="511.5" y2="526" stroke="#c0c0c0" stroke-width="1"/>
<line x1="515.5" y1="475" x2="515.5" y2="526" stroke="#c0c0c0" stroke-width="1"/>
<line x1="519.5" y1="476" x2="519.5" y2="526" stroke="#c0c0c0" stroke-width="1"/>
<line x1="523.5" y1="477" x2="523.5" y2="526" stroke="#c0c0c0" stroke-width="1"/>
<line x1="527.5" y1="478" x2="527.5" y2="526" stroke="#c0c0c0" stroke-width="1"/>
<line x1="531.5" y1="479" x2="531.5" y2="526" stroke="#c0c0c0" stroke-width="1"/>
<line x1="535.5" y1="479" x2="535.5" y2="526" stroke="#c0c0c0" stroke-width="1"/>
<line x1="539.5" y1="477" x2="539.5" y2="526" stroke="#c0c0c0" stroke-width="1"/>
<line x1="543.5" y1="477" x2="543.5" y2="526" stroke="#c0c0c0" stroke-width="1"/>
<line x1="547.5" y1="473" x2="547.5" y2="526" stroke="#c0c0c0" stroke-width="1"/>
<line x1="551.5" y1="468" x2="551.5" y2="526" stroke="#c0c0c0" stroke-width="1"/>
<line x1="555.5" y1="469" x2="555.5" y2="526" stroke="#c0c0c0" stroke-width="1"/>
<line x1="559.5" y1="470" x2="559.5" y2="526" stroke="#c0c0c0" stroke-width="1"/>
<line x1="563.5" y1="470" x2="563.5" y2="526" stroke="#c0c0c0" stroke-width="1"/>
<line x1="567.5" y1="469" x2="567.5" y2="526" stroke="#c0c0c0" stroke-width="1"/>
<line x1="571.5" y1="469" x2="571.5" y2="526" stroke="#c0c0c0" stroke-width="1"/>
<line x1="575.5" y1="473" x2="575.5" y2="526" stroke="#c0c0c0" stroke-width="1"/>
<line x1="579.5" y1="475" x2="579.5" y2="526" stroke="#c0c0c0" stroke-width="1"/>
<line x1="583.5" y1="477" x2="583.5" y2="526" stroke="#c0c0c0" stroke-width="1"/>
<line x1="587.5" y1="479" x2="587.5" y2="526" stroke="#c0c0c0" stroke-width="1"/>
<line x1="591.5" y1="480" x2="591.5" y2="526" stroke="#c0c0c0" stroke-width="1"/>
<line x1="595.5" y1="482" x2="595.5" y2="526" stroke="#c0c0c0" stroke-width="1"/>
<line x1="599.5" y1="484" x2="599.5" y2="526" stroke="#c0c0c0" stroke-width="1"/>
<line x1="603.5" y1="487" x2="603.5" y2="526" stroke="#c0c0c0" stroke-width="1"/>
<line x1="607.5" y1="488" x2="607.5" y2="526" stroke="#c0c0c0" stroke-width="1"/>
<line x1="611.5" y1="491" x2="611.5" y2="526" stroke="#c0c0c0" stroke-width="1"/>
<line x1="615.5" y1="494" x2="615.5" y2="526" stroke="#c0c0c0" stroke-width="1"/>
<line x1="619.5" y1="496" x2="619.5" y2="526" stroke="#c0c0c0" stroke-width="1"/>
<line x1="623.5" y1="499" x2="623.5" y2="526" stroke="#c0c0c0" stroke-width="1"/>
<line x1="627.5" y1="501" x2="627.5" y2="526" stroke="#c0c0c0" stroke-width="1"/>
<polyline points="3.0,518.3 10.0,518.1 17.0,517.4 29.0,517.3 35.0,518.0 40.0,518.3 47.0,519.7 52.0,520.7 58.0,522.7 65.0,526.0 70.0,527.6 77.0,530.0 82.0,531.4 88.0,533.0 93.0,533.6 99.0,534.3 112.0,532.9 125.0,530.7 138.0,529.0 151.0,527.1 181.0,527.1 213.0,527.9 228.0,527.5 245.0,526.0 261.0,524.6 283.0,522.5 300.0,521.4 315.0,521.4 321.0,521.9 330.0,523.6 339.0,526.1 351.0,528.9 369.0,530.0 386.0,530.0 394.0,527.0 404.0,525.6 414.0,524.4 424.0,522.6 434.0,521.0 442.0,518.6 450.0,517.0 458.0,514.0 466.0,510.0 472.0,506.5 478.0,501.5 483.3,496.4 489.7,489.6 494.8,484.0 500.4,478.4 506.4,473.3 512.8,469.9 518.8,469.4 524.8,470.3 531.5,472.4 537.5,475.0 543.5,476.5 549.5,475.8 555.5,474.4 561.5,473.5 567.5,471.4 573.5,470.5 579.5,470.5 585.5,471.0 592.0,473.6 598.0,475.6 604.0,478.4 610.0,481.0 616.0,484.4 622.0,487.4 627.0,489.6" fill="none" stroke="#ff0000" stroke-width="1" stroke-dasharray="3,3"/>
<text x="658" y="470.4" font-size="9.5" fill="#000" stroke="#000" stroke-width="0.2" textLength="27.5" lengthAdjust="spacingAndGlyphs">0.4055</text>
<text x="658" y="528.3" font-size="9.5" fill="#000" stroke="#000" stroke-width="0.2" textLength="17.5" lengthAdjust="spacingAndGlyphs">0.00</text>
<text x="658" y="535.6" font-size="9.5" fill="#000" stroke="#000" stroke-width="0.2" textLength="31.0" lengthAdjust="spacingAndGlyphs">-0.0835</text>
<line x1="655" y1="460.5" x2="657" y2="460.5" stroke="#000" stroke-width="1"/>
<line x1="655" y1="525.5" x2="657" y2="525.5" stroke="#000" stroke-width="1"/>
<line x1="655" y1="538.5" x2="657" y2="538.5" stroke="#000" stroke-width="1"/>
<rect x="2.5" y="2.5" width="652" height="308" fill="none" stroke="#000" stroke-width="1"/>
<rect x="2.5" y="312.5" width="652" height="72" fill="none" stroke="#000" stroke-width="1"/>
<rect x="2.5" y="386.5" width="652" height="72" fill="none" stroke="#000" stroke-width="1"/>
<rect x="2.5" y="460.5" width="652" height="79" fill="none" stroke="#000" stroke-width="1"/>
<line x1="3.5" y1="540" x2="3.5" y2="543" stroke="#000" stroke-width="1"/>
<text x="3" y="551.5" font-size="9.5" fill="#000" stroke="#000" stroke-width="0.2" textLength="51" lengthAdjust="spacingAndGlyphs">12 Feb 2020</text>
<line x1="67.5" y1="540" x2="67.5" y2="543" stroke="#000" stroke-width="1"/>
<text x="67" y="551.5" font-size="9.5" fill="#000" stroke="#000" stroke-width="0.2" textLength="54" lengthAdjust="spacingAndGlyphs">13 Feb 11:00</text>
<line x1="131.5" y1="540" x2="131.5" y2="543" stroke="#000" stroke-width="1"/>
<text x="131" y="551.5" font-size="9.5" fill="#000" stroke="#000" stroke-width="0.2" textLength="54" lengthAdjust="spacingAndGlyphs">14 Feb 03:00</text>
<line x1="195.5" y1="540" x2="195.5" y2="543" stroke="#000" stroke-width="1"/>
<text x="195" y="551.5" font-size="9.5" fill="#000" stroke="#000" stroke-width="0.2" textLength="54" lengthAdjust="spacingAndGlyphs">14 Feb 19:00</text>
<line x1="259.5" y1="540" x2="259.5" y2="543" stroke="#000" stroke-width="1"/>
<text x="259" y="551.5" font-size="9.5" fill="#000" stroke="#000" stroke-width="0.2" textLength="54" lengthAdjust="spacingAndGlyphs">17 Feb 11:00</text>
<line x1="323.5" y1="540" x2="323.5" y2="543" stroke="#000" stroke-width="1"/>
<text x="323" y="551.5" font-size="9.5" fill="#000" stroke="#000" stroke-width="0.2" textLength="54" lengthAdjust="spacingAndGlyphs">18 Feb 03:00</text>
<line x1="387.5" y1="540" x2="387.5" y2="543" stroke="#000" stroke-width="1"/>
<text x="387" y="551.5" font-size="9.5" fill="#000" stroke="#000" stroke-width="0.2" textLength="54" lengthAdjust="spacingAndGlyphs">18 Feb 19:00</text>
<line x1="451.5" y1="540" x2="451.5" y2="543" stroke="#000" stroke-width="1"/>
<text x="451" y="551.5" font-size="9.5" fill="#000" stroke="#000" stroke-width="0.2" textLength="54" lengthAdjust="spacingAndGlyphs">19 Feb 11:00</text>
<line x1="515.5" y1="540" x2="515.5" y2="543" stroke="#000" stroke-width="1"/>
<text x="515" y="551.5" font-size="9.5" fill="#000" stroke="#000" stroke-width="0.2" textLength="54" lengthAdjust="spacingAndGlyphs">20 Feb 03:00</text>
<line x1="579.5" y1="540" x2="579.5" y2="543" stroke="#000" stroke-width="1"/>
<text x="579" y="551.5" font-size="9.5" fill="#000" stroke="#000" stroke-width="0.2" textLength="54" lengthAdjust="spacingAndGlyphs">20 Feb 19:00</text>
<polygon points="6,9 13.5,9 9.75,13" fill="#000"/>
<text x="18" y="13.5" font-size="10" fill="#000" stroke="#000" stroke-width="0.2" textLength="198.5" lengthAdjust="spacingAndGlyphs">USDJPY,H1  111.972 112.007 111.962 111.981</text>
<text x="7" y="325" font-size="10" fill="#000" stroke="#000" stroke-width="0.2" textLength="150" lengthAdjust="spacingAndGlyphs">RSI(18) 60.8528  -&gt;MA(14) 65.1447</text>
<text x="7" y="399" font-size="10" fill="#000" stroke="#000" stroke-width="0.2" textLength="121" lengthAdjust="spacingAndGlyphs">Stoch(5,3,3) 16.6163 22.9269</text>
<text x="7" y="472.5" font-size="10" fill="#000" stroke="#000" stroke-width="0.2" textLength="128" lengthAdjust="spacingAndGlyphs">MACD(12,26,9) 0.1624 0.2232</text>
</svg>
</body></html>
